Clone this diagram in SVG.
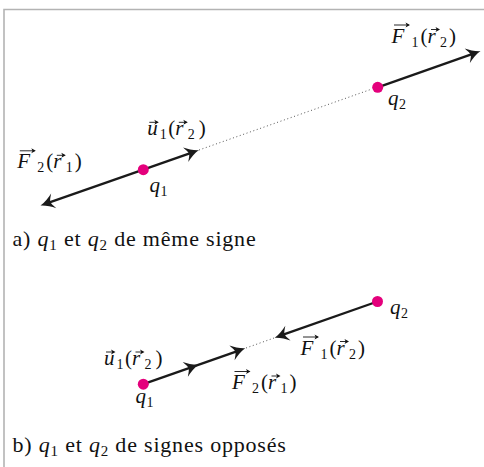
<svg xmlns="http://www.w3.org/2000/svg" xmlns:xlink="http://www.w3.org/1999/xlink" width="484" height="467" viewBox="0 0 484 467">
<style>
text{font-family:"Liberation Serif","Times New Roman",serif;fill:#111}
.m{font-size:21px}
.cap{font-size:22px;letter-spacing:0.8px}
.i{font-style:italic}
.s{font-size:14px}
.cs{font-size:15px}
.shaft{stroke:#1a1a1a;stroke-width:2.3;fill:none}
.dot{stroke:#555;stroke-width:1;stroke-dasharray:1 2.6;fill:none}
.v{stroke:#111;stroke-width:0.9;fill:none}
.q{fill:#e4007c}
.frame{stroke:#b3b3b3;stroke-width:1.6;fill:none}
</style>
<defs>
<path id="ah" fill="#1a1a1a" d="M0,0 C-5,-1.5 -10,-4.5 -14,-7.8 C-11.5,-3.5 -10.5,-1.5 -10.5,0 C-10.5,1.5 -11.5,3.5 -14,7.8 C-10,4.5 -5,1.5 0,0 Z"/>
<path id="vh" fill="#111" d="M0,0 L-4.5,-2.5 L-3.3,0 L-4.5,2.5 Z"/>
</defs>
<path class="frame" d="M4,467 V9.5 H484"/>
<g id="connectors">
<path class="dot" d="M199,150 L372,89"/>
<path class="shaft" d="M377.7,87.3 L472,54.1"/>
<use href="#ah" transform="translate(480.5,51.1) rotate(-19.4)"/>
<path class="shaft" d="M143.3,169.7 L190.4,153.1"/>
<use href="#ah" transform="translate(198.9,150.1) rotate(-19.4)"/>
<path class="shaft" d="M143.3,169.7 L48.8,202.6"/>
<use href="#ah" transform="translate(40.5,205.5) rotate(160.6)"/>
<path class="dot" d="M246,348 L274,338"/>
<path class="shaft" d="M143.3,384.2 L236.7,351.3"/>
<use href="#ah" transform="translate(198.5,364.8) rotate(-19.4)"/>
<use href="#ah" transform="translate(245.2,348.3) rotate(-19.4)"/>
<path class="shaft" d="M377.5,301.5 L283.2,334.7"/>
<use href="#ah" transform="translate(274.7,337.7) rotate(160.6)"/>
</g>
<g id="a-q1"><circle class="q" cx="143.3" cy="169.7" r="5.5"/>
<text class="m" transform="translate(149.5,192)"><tspan class="i" x="0" y="0">q</tspan><tspan class="s" x="11" y="4">1</tspan></text></g>
<g id="a-q2"><circle class="q" cx="377.7" cy="87.3" r="5.5"/>
<text class="m" transform="translate(388,105)"><tspan class="i" x="0" y="0">q</tspan><tspan class="s" x="11" y="4">2</tspan></text></g>
<g id="a-F1" transform="translate(391.5,42.5)">
<text class="m"><tspan class="i" x="0" y="0">F</tspan><tspan class="s" x="20" y="4">1</tspan><tspan x="29" y="0">(</tspan><tspan class="i" x="36" y="0">r</tspan><tspan class="s" x="48.5" y="4">2</tspan><tspan x="57.5" y="0">)</tspan></text>
<path class="v" d="M2.5,-17.5 H17"/><use href="#vh" transform="translate(18.5,-17.5)"/>
<path class="v" d="M39.5,-13 H47"/><use href="#vh" transform="translate(48.5,-13)"/>
</g>
<g id="a-u1" transform="translate(147.3,135.3)">
<text class="m"><tspan class="i" x="0" y="0">u</tspan><tspan class="s" x="12.5" y="4">1</tspan><tspan x="21" y="0">(</tspan><tspan class="i" x="28" y="0">r</tspan><tspan class="s" x="40.5" y="4">2</tspan><tspan x="51.5" y="0">)</tspan></text>
<path class="v" d="M2,-13 H10"/><use href="#vh" transform="translate(11.5,-13)"/>
<path class="v" d="M31.5,-13 H39"/><use href="#vh" transform="translate(40.5,-13)"/>
</g>
<g id="a-F2" transform="translate(17.3,168.3)">
<text class="m"><tspan class="i" x="0" y="0">F</tspan><tspan class="s" x="20" y="4">2</tspan><tspan x="29" y="0">(</tspan><tspan class="i" x="36" y="0">r</tspan><tspan class="s" x="48.5" y="4">1</tspan><tspan x="57.5" y="0">)</tspan></text>
<path class="v" d="M2.5,-17.5 H17"/><use href="#vh" transform="translate(18.5,-17.5)"/>
<path class="v" d="M39.5,-13 H47"/><use href="#vh" transform="translate(48.5,-13)"/>
</g>
<g id="caption-a"><text class="cap" x="12.5" y="245.7">a) <tspan class="i">q</tspan><tspan class="cs" dy="4">1</tspan><tspan dy="-4"> et </tspan><tspan class="i">q</tspan><tspan class="cs" dy="4">2</tspan><tspan dy="-4"> de même signe</tspan></text></g>
<g id="b-q1"><circle class="q" cx="143.3" cy="384.2" r="5.5"/>
<text class="m" transform="translate(135.5,403)"><tspan class="i" x="0" y="0">q</tspan><tspan class="s" x="11" y="4">1</tspan></text></g>
<g id="b-q2"><circle class="q" cx="377.5" cy="301.5" r="5.5"/>
<text class="m" transform="translate(390,313.5)"><tspan class="i" x="0" y="0">q</tspan><tspan class="s" x="11" y="4">2</tspan></text></g>
<g id="b-u1" transform="translate(104,365)">
<text class="m"><tspan class="i" x="0" y="0">u</tspan><tspan class="s" x="12.5" y="4">1</tspan><tspan x="21" y="0">(</tspan><tspan class="i" x="28" y="0">r</tspan><tspan class="s" x="40.5" y="4">2</tspan><tspan x="51.5" y="0">)</tspan></text>
<path class="v" d="M2,-13 H10"/><use href="#vh" transform="translate(11.5,-13)"/>
<path class="v" d="M31.5,-13 H39"/><use href="#vh" transform="translate(40.5,-13)"/>
</g>
<g id="b-F1" transform="translate(300.5,354.5)">
<text class="m"><tspan class="i" x="0" y="0">F</tspan><tspan class="s" x="20" y="4">1</tspan><tspan x="29" y="0">(</tspan><tspan class="i" x="36" y="0">r</tspan><tspan class="s" x="48.5" y="4">2</tspan><tspan x="57.5" y="0">)</tspan></text>
<path class="v" d="M2.5,-17.5 H17"/><use href="#vh" transform="translate(18.5,-17.5)"/>
<path class="v" d="M39.5,-13 H47"/><use href="#vh" transform="translate(48.5,-13)"/>
</g>
<g id="b-F2" transform="translate(232,389)">
<text class="m"><tspan class="i" x="0" y="0">F</tspan><tspan class="s" x="20" y="4">2</tspan><tspan x="29" y="0">(</tspan><tspan class="i" x="36" y="0">r</tspan><tspan class="s" x="48.5" y="4">1</tspan><tspan x="57.5" y="0">)</tspan></text>
<path class="v" d="M2.5,-17.5 H17"/><use href="#vh" transform="translate(18.5,-17.5)"/>
<path class="v" d="M39.5,-13 H47"/><use href="#vh" transform="translate(48.5,-13)"/>
</g>
<g id="caption-b"><text class="cap" x="12.5" y="451.5">b) <tspan class="i">q</tspan><tspan class="cs" dy="4">1</tspan><tspan dy="-4"> et </tspan><tspan class="i">q</tspan><tspan class="cs" dy="4">2</tspan><tspan dy="-4"> de signes opposés</tspan></text></g>
</svg>
